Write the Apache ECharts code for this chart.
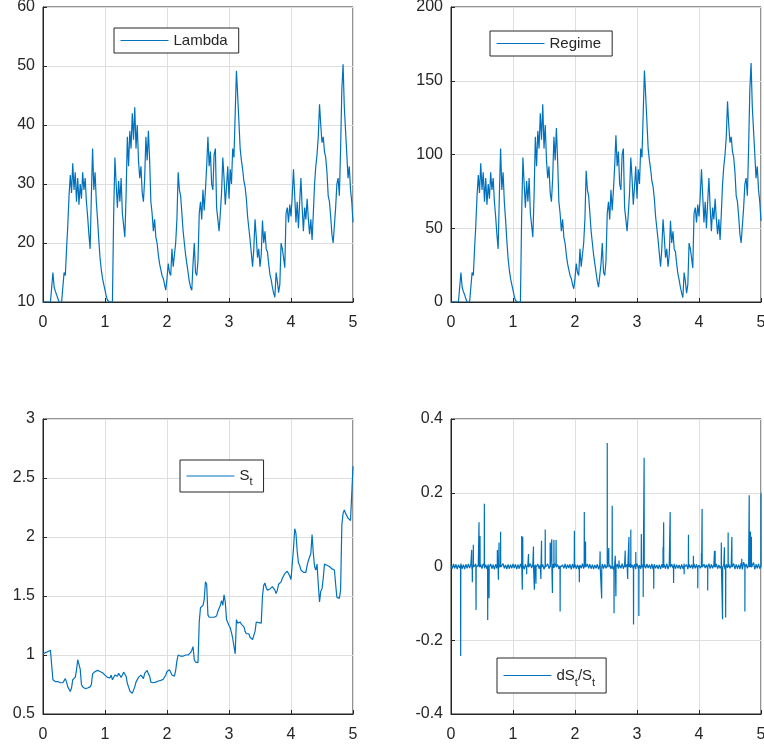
<!DOCTYPE html>
<html><head><meta charset="utf-8">
<script src="https://cdn.jsdelivr.net/npm/echarts@6/dist/echarts.min.js"></script>
<style>html,body{margin:0;padding:0;background:#fff}#c{width:764px;height:749px}</style>
</head><body><div id="c"></div>
<script>
// time grid step (s): values below are sampled every 0.02 from t = 0 to t = 5
const dt = 0.02;

const lambdaValues = [
10,10,10,10,10,10,10,10,15,12.5,
11.8,11.2,10.6,10,10,10,10,15,14.5,19,
23,28,31.5,28.5,33.5,29,32,27,31,26.5,
30,27.5,32,29,31,27,24.5,21.5,19,28,
36,29,32,27,24,20.5,17.5,15.5,14,13,
12,11,10.3,10,10,10,10,25,34.5,30,
26,30.5,27,31,25,23,21,28,38,33,
39,36,42,37.5,43,36,40,34,31,33,
28.5,27,31,38,34,39,34,27,25,22,
24,21,20,18,16.5,15.5,14.5,14,13,12,
14,16.5,15,14.5,19,16,18,20,24,32,
29,28,25,22,20,18,16.5,15,13.5,12.5,
12,16.5,20,15,14.5,17,25,27,24,29,
25.5,29,33,38,33,35.5,30,29,35,36,
26,24,22,25,28.5,34.5,31,26.5,29.5,33,
27.5,32.5,30,36,34.5,42,49.2,45,40.5,36,
34,32.5,30.5,29.5,27.5,24.5,22.5,20.5,18.3,16,
19,24,21,17.5,19,16,18,23.8,20,22,
19,18.5,16.5,14.7,13.8,12.5,11.5,10.8,15,13.5,
11.6,13,20,19,17.5,15.8,25,26,23.5,26.5,
24.5,28,32.5,28,23.5,27,22.5,27,31,26,
22,26,24,27.5,24,21.5,24,20.5,25,30,
33,35,38,43.5,40,37,38,35.5,34.5,32,
28,27,24.5,21.5,20,23,26,30,31,28,
36,46,50.3,43,39,35,31,33,29,27,
23.5
];

const regimeValues = [
0,0,0,0,0,0,0,0,20,10,
7,5,2,0,0,0,0,20,18,36,
52,72,86,74,94,76,88,68,84,66,
80,70,88,76,84,68,58,46,36,72,
104,76,88,68,56,42,30,22,16,12,
8,4,1,0,0,0,0,60,98,80,
64,82,68,84,60,52,44,72,112,92,
116,104,128,110,134,104,120,96,84,92,
74,68,84,112,96,118,96,68,60,48,
56,44,40,32,26,22,18,16,12,9,
16,26,20,18,36,24,32,40,56,89,
76,72,60,48,40,32,26,20,14,10,
9,26,40,20,18,28,60,68,56,76,
62,76,92,113,92,102,80,76,100,104,
64,56,48,60,74,98,84,66,78,92,
70,90,80,104,98,128,157,140,122,104,
96,90,82,78,70,58,50,42,33,24,
36,56,44,30,36,24,32,55,40,48,
36,34,26,19,15,10,6,3,20,14,
6,12,40,36,30,23,60,64,54,66,
58,72,90,72,54,68,50,68,84,64,
48,64,56,70,56,46,56,42,60,80,
92,100,112,136,120,108,112,102,98,88,
72,68,58,46,40,52,64,80,84,72,
104,144,162,132,116,100,84,92,76,68,
55
];

const priceValues = [
1.01,1.01,1.02,1.02,1.03,1.04,1.04,1.03,0.79,0.78,
0.775,0.77,0.775,0.77,0.765,0.77,0.765,0.77,0.80,0.77,
0.73,0.715,0.69,0.72,0.79,0.80,0.81,0.87,0.96,0.96,
0.88,0.75,0.73,0.72,0.715,0.72,0.72,0.725,0.73,0.75,
0.84,0.85,0.86,0.87,0.87,0.865,0.86,0.86,0.85,0.84,
0.83,0.82,0.81,0.81,0.805,0.83,0.79,0.80,0.83,0.815,
0.82,0.845,0.83,0.81,0.83,0.855,0.86,0.82,0.76,0.73,
0.695,0.69,0.675,0.69,0.73,0.77,0.78,0.81,0.80,0.83,
0.82,0.80,0.845,0.86,0.87,0.84,0.82,0.77,0.76,0.765,
0.765,0.77,0.775,0.78,0.78,0.785,0.79,0.795,0.80,0.83,
0.86,0.875,0.875,0.86,0.83,0.82,0.82,0.87,0.95,1.00,
0.99,0.99,0.995,0.99,0.985,1.00,1.005,1.00,1.01,1.02,
1.04,1.07,0.96,0.94,0.94,0.935,1.28,1.40,1.41,1.42,
1.47,1.62,1.60,1.34,1.32,1.325,1.32,1.32,1.32,1.325,
1.33,1.37,1.38,1.42,1.46,1.42,1.51,1.45,1.30,1.29,
1.25,1.23,1.19,1.14,1.13,1.01,1.30,1.27,1.28,1.28,
1.26,1.25,1.24,1.20,1.18,1.18,1.18,1.15,1.145,1.13,
1.13,1.20,1.28,1.28,1.275,1.27,1.27,1.50,1.59,1.61,
1.57,1.55,1.545,1.56,1.575,1.58,1.57,1.55,1.52,1.55,
1.60,1.61,1.62,1.65,1.67,1.69,1.70,1.71,1.72,1.67,
1.64,1.65,1.90,2.07,2.03,1.88,1.78,1.76,1.72,1.71,
1.70,1.69,1.70,1.76,1.80,1.83,1.86,2.02,1.86,1.75,
1.72,1.77,1.60,1.45,1.54,1.56,1.65,1.77,1.77,1.76,
1.75,1.75,1.74,1.73,1.73,1.72,1.60,1.49,1.48,1.48,
1.55,2.10,2.20,2.23,2.20,2.18,2.16,2.15,2.14,2.14,
2.60
];

// small background fluctuation of dS/S, sampled every dt
const returnNoise = [
0.004,-0.006,0.007,-0.005,0.006,-0.007,0.005,-0.004,0.008,-0.006,
0.005,-0.007,0.006,-0.005,0.007,-0.004,0.006,-0.008,0.005,-0.006,
0.007,-0.005,0.004,-0.007,0.006,-0.006,0.008,-0.005,0.005,-0.007,
0.006,-0.004,0.007,-0.006,0.005,-0.008,0.006,-0.005,0.007,-0.004,
0.005,-0.006,0.008,-0.005,0.004,-0.007,0.006,-0.006,0.005,-0.005,
0.007,-0.004,0.006,-0.007,0.005,-0.006,0.007,-0.005,0.004,-0.008,
0.006,-0.005,0.005,-0.006,0.008,-0.004,0.006,-0.007,0.005,-0.005,
0.007,-0.006,0.004,-0.005,0.006,-0.008,0.005,-0.004,0.007,-0.006,
0.005,-0.007,0.006,-0.004,0.008,-0.005,0.005,-0.006,0.006,-0.007,
0.004,-0.005,0.007,-0.006,0.005,-0.004,0.006,-0.008,0.007,-0.005,
0.006,-0.006,0.005,-0.007,0.004,-0.005,0.008,-0.006,0.005,-0.004,
0.007,-0.005,0.006,-0.006,0.005,-0.007,0.004,-0.005,0.006,-0.008,
0.005,-0.004,0.007,-0.006,0.006,-0.005,0.008,-0.007,0.005,-0.006,
0.006,-0.008,0.005,-0.004,0.007,-0.006,0.004,-0.005,0.008,-0.006,
0.005,-0.007,0.006,-0.005,0.007,-0.004,0.005,-0.006,0.006,-0.007,
0.008,-0.005,0.004,-0.006,0.005,-0.007,0.006,-0.005,0.007,-0.004,
0.005,-0.006,0.007,-0.008,0.006,-0.005,0.004,-0.006,0.005,-0.007,
0.006,-0.004,0.005,-0.006,0.008,-0.007,0.005,-0.005,0.006,-0.004,
0.007,-0.006,0.005,-0.005,0.004,-0.007,0.006,-0.006,0.008,-0.005,
0.005,-0.007,0.006,-0.004,0.005,-0.006,0.007,-0.005,0.006,-0.008,
0.004,-0.005,0.007,-0.006,0.006,-0.004,0.005,-0.007,0.008,-0.006,
0.006,-0.005,0.005,-0.007,0.007,-0.006,0.004,-0.005,0.006,-0.007,
0.005,-0.008,0.006,-0.004,0.007,-0.005,0.005,-0.006,0.008,-0.007,
0.006,-0.006,0.005,-0.007,0.010,-0.008,0.012,-0.009,0.007,-0.005,
0.006,-0.007,0.005,-0.006,0.011,-0.008,0.006,-0.005,0.007,-0.006,
0.005
];

// jumps of dS/S: [time, value]
const returnSpikes = [
[0.156,-0.243],[0.334,0.045],[0.344,-0.043],[0.36,0.059],[0.404,-0.118],
[0.452,0.12],[0.468,0.083],[0.538,0.17],[0.592,-0.145],[0.614,-0.086],
[0.748,0.045],[0.764,-0.036],[0.775,0.065],[0.80,0.094],[1.14,0.083],
[1.15,-0.063],[1.157,0.081],[1.22,-0.021],[1.25,0.034],[1.33,0.054],
[1.345,-0.063],[1.37,-0.047],[1.45,-0.034],[1.46,0.07],[1.52,0.10],
[1.60,0.065],[1.625,0.074],[1.636,-0.072],[1.66,0.072],[1.695,0.072],
[1.76,-0.122],[1.99,0.097],[2.07,-0.043],[2.15,0.148],[2.17,0.068],
[2.405,0.041],[2.43,-0.087],[2.52,0.335],[2.545,0.05],[2.60,0.165],
[2.63,-0.127],[2.65,0.029],[2.66,-0.081],[2.71,0.016],[2.81,0.043],
[2.85,-0.034],[2.87,0.08],[2.90,0.10],[2.944,-0.157],[2.98,0.039],
[3.03,-0.134],[3.07,0.088],[3.10,-0.083],[3.115,0.295],[3.27,-0.06],
[3.42,0.052],[3.43,0.12],[3.535,0.148],[3.59,-0.045],[3.76,-0.021],
[3.83,0.086],[3.91,0.029],[3.98,-0.059],[4.04,0.036],[4.05,0.156],
[4.14,-0.065],[4.25,0.042],[4.26,0.043],[4.36,0.065],[4.38,-0.143],
[4.41,0.052],[4.43,-0.138],[4.47,0.092],[4.53,0.08],[4.69,0.021],
[4.74,-0.122],[4.81,0.193],[4.83,0.095],[4.845,0.081],[5.0,0.2]
];

const seriesNames = ['Lambda', 'Regime', 'S_t', 'dS_t/S_t'];
const yRanges = [[10, 60, 10], [0, 200, 50], [0.5, 3, 0.5], [-0.4, 0.4, 0.2]];
const xRange = [0, 5, 1];

function toPairs(vals) {
  return vals.map((v, i) => [+(i * dt).toFixed(3), v]);
}
const returnPts = toPairs(returnNoise);
returnSpikes.forEach(([t, v]) => {
  returnPts.push([t - 0.002, 0.002], [t, v], [t + 0.002, -0.002]);
});
returnPts.sort((a, b) => a[0] - b[0]);

const dataSets = [toPairs(lambdaValues), toPairs(regimeValues), toPairs(priceValues), returnPts];

const TXT = '#262626';
const FONT = 'Liberation Sans, Arial, sans-serif';
const LINE = '#0072BD';
const gridPos = [[43, 7], [451, 7], [43, 419], [451, 419]];

const fmt = v => String(Math.round(v * 1000) / 1000);

const grids = gridPos.map(([l, t]) => ({
  left: l, top: t, width: 310, height: 295,
  show: true, borderColor: TXT, borderWidth: 1, backgroundColor: '#fff',
  containLabel: false, outerBoundsMode: 'none'
}));

const xAxes = gridPos.map((_, i) => ({
  type: 'value', gridIndex: i, min: xRange[0], max: xRange[1], interval: xRange[2],
  axisLine: { show: true, onZero: false, lineStyle: { color: TXT, width: 1 } },
  axisTick: { show: true, inside: true, length: 4, lineStyle: { color: TXT } },
  axisLabel: { color: TXT, fontSize: 16, fontFamily: FONT, margin: 13, formatter: fmt },
  splitLine: { show: true, lineStyle: { color: '#dedede', width: 1 } }
}));

const yAxes = yRanges.map(([mn, mx, iv], i) => ({
  type: 'value', gridIndex: i, min: mn, max: mx, interval: iv,
  axisLine: { show: true, onZero: false, lineStyle: { color: TXT, width: 1 } },
  axisTick: { show: true, inside: true, length: 4, lineStyle: { color: TXT } },
  axisLabel: { color: TXT, fontSize: 16, fontFamily: FONT, margin: 8, formatter: fmt },
  splitLine: { show: true, lineStyle: { color: '#dedede', width: 1 } }
}));

const series = dataSets.map((d, i) => ({
  name: seriesNames[i], type: 'line', xAxisIndex: i, yAxisIndex: i,
  data: d, symbol: 'none', showSymbol: false, clip: true,
  lineStyle: { color: LINE, width: 1.2 }, itemStyle: { color: LINE },
  animation: false
}));

const legendPos = [[114, 28], [490, 31], [180, 460], [497, 658]];
const legendFmt = n => n.replace(/_t/g, '{sub|t}');
const legends = legendPos.map(([l, t], i) => ({
  data: [seriesNames[i]], left: l, top: t, orient: 'horizontal',
  padding: [5, 11, 5, 6],
  itemWidth: 48, itemHeight: 14, itemGap: 0,
  borderColor: TXT, borderWidth: 1, borderRadius: 0, backgroundColor: '#fff',
  selectedMode: false,
  formatter: legendFmt,
  itemStyle: { color: 'transparent', borderWidth: 0, opacity: 0 },
  lineStyle: { color: LINE, width: 1, opacity: 1 },
  textStyle: {
    color: TXT, fontSize: 15, fontFamily: FONT,
    lineHeight: i < 2 ? 15 : (i === 2 ? 22 : 25),
    rich: { sub: { color: TXT, fontSize: 11, fontFamily: FONT, lineHeight: 12, verticalAlign: 'bottom' } }
  }
}));

const chart = echarts.init(document.getElementById('c'), null, { renderer: 'canvas' });
chart.setOption({
  backgroundColor: '#fff',
  animation: false,
  grid: grids,
  xAxis: xAxes,
  yAxis: yAxes,
  legend: legends,
  series: series
});
</script>
</body></html>
